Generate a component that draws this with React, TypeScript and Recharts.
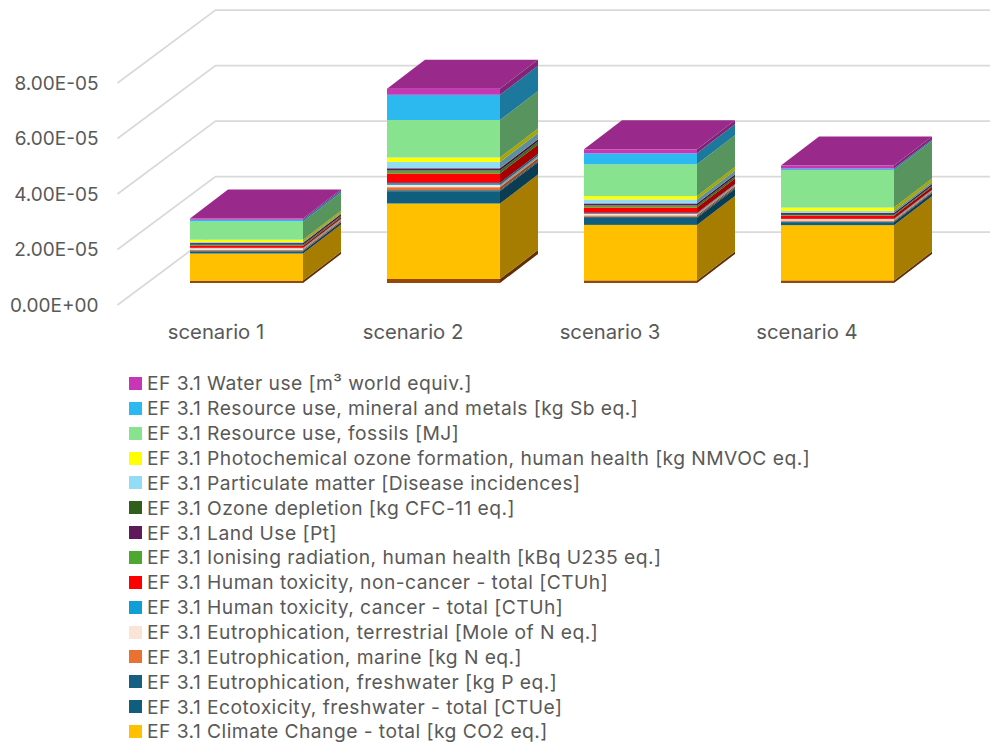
import { Bar, BarChart, CartesianGrid, Legend, XAxis, YAxis } from "recharts";

/* Stacked impact categories per scenario, bottom of the stack first */

const scenarios = ["scenario 1", "scenario 2", "scenario 3", "scenario 4"];

const acidification = [0.87e-6, 1.44e-6, 0.94e-6, 0.94e-6];
const climateChange = [9.75e-6, 27.2e-6, 20.0e-6, 19.9e-6];
const ecotoxicity = [0.8e-6, 4.44e-6, 2.53e-6, 1.08e-6];
const eutroFreshwater = [0.14e-6, 0.36e-6, 0.36e-6, 0.25e-6];
const eutroMarine = [0.43e-6, 1.08e-6, 0.54e-6, 0.36e-6];
const eutroTerrestrial = [0.54e-6, 0.83e-6, 0.54e-6, 0.47e-6];
const toxCancer = [0.15e-6, 0.72e-6, 0.36e-6, 0.11e-6];
const toxNonCancer = [0.69e-6, 3.4e-6, 1.95e-6, 1.08e-6];
const ionising = [0.43e-6, 1.05e-6, 0.72e-6, 0.36e-6];
const landUse = [0.58e-6, 0.8e-6, 0.72e-6, 0.65e-6];
const ozoneDepletion = [0.02e-6, 0.04e-6, 0.02e-6, 0.02e-6];
const particulate = [0.36e-6, 2.27e-6, 1.44e-6, 0.72e-6];
const photochemical = [0.83e-6, 1.6e-6, 1.2e-6, 1.23e-6];
const fossils = [6.6e-6, 13.5e-6, 11.44e-6, 13.57e-6];
const minerals = [0.6e-6, 9.1e-6, 3.97e-6, 0.5e-6];
const waterUse = [0.43e-6, 2.2e-6, 1.44e-6, 1.08e-6];

const yTicks = [0, 2e-5, 4e-5, 6e-5, 8e-5];
const yTickLabels = ["0.00E+00", "2.00E-05", "4.00E-05", "6.00E-05", "8.00E-05"];

interface Series {
  key: string;
  label: string;
  color: string;
  values: number[];
  inLegend: boolean;
}

const series: Series[] = [
  { key: "acid", label: "EF 3.1 Acidification [Mole of H+ eq.]", color: "#974706", values: acidification, inLegend: false },
  { key: "climate", label: "EF 3.1 Climate Change - total [kg CO2 eq.]", color: "#FFC000", values: climateChange, inLegend: true },
  { key: "eco", label: "EF 3.1 Ecotoxicity, freshwater - total [CTUe]", color: "#0F5E7E", values: ecotoxicity, inLegend: true },
  { key: "eutroF", label: "EF 3.1 Eutrophication, freshwater [kg P eq.]", color: "#156082", values: eutroFreshwater, inLegend: true },
  { key: "eutroM", label: "EF 3.1 Eutrophication, marine [kg N eq.]", color: "#E97132", values: eutroMarine, inLegend: true },
  { key: "eutroT", label: "EF 3.1 Eutrophication, terrestrial [Mole of N eq.]", color: "#FBE3D6", values: eutroTerrestrial, inLegend: true },
  { key: "toxC", label: "EF 3.1 Human toxicity, cancer - total [CTUh]", color: "#0F9ED5", values: toxCancer, inLegend: true },
  { key: "toxN", label: "EF 3.1 Human toxicity, non-cancer - total [CTUh]", color: "#FF0000", values: toxNonCancer, inLegend: true },
  { key: "ion", label: "EF 3.1 Ionising radiation, human health [kBq U235 eq.]", color: "#4EA72E", values: ionising, inLegend: true },
  { key: "land", label: "EF 3.1 Land Use [Pt]", color: "#5F1A5A", values: landUse, inLegend: true },
  { key: "ozone", label: "EF 3.1 Ozone depletion [kg CFC-11 eq.]", color: "#2F5F1B", values: ozoneDepletion, inLegend: true },
  { key: "pm", label: "EF 3.1 Particulate matter [Disease incidences]", color: "#92DCF5", values: particulate, inLegend: true },
  { key: "photo", label: "EF 3.1 Photochemical ozone formation, human health [kg NMVOC eq.]", color: "#FFFF00", values: photochemical, inLegend: true },
  { key: "fossil", label: "EF 3.1 Resource use, fossils [MJ]", color: "#88E38F", values: fossils, inLegend: true },
  { key: "mineral", label: "EF 3.1 Resource use, mineral and metals [kg Sb eq.]", color: "#2BB9F0", values: minerals, inLegend: true },
  { key: "water", label: "EF 3.1 Water use [m³ world equiv.]", color: "#C936B5", values: waterUse, inLegend: true },
];

const chartData = scenarios.map((name, i) => {
  const row: Record<string, string | number> = { name };
  series.forEach((s) => {
    row[s.key] = s.values[i];
  });
  return row;
});

/* Fake 3D projection */

const FONT = "Inter, sans-serif";
const TEXT_COLOR = "#595959";
const GRID_COLOR = "#D9D9D9";

const WALL_DX = 98; // floor depth, front edge to back wall
const WALL_DY = 73;
const COLUMN_SHIFT_X = 30.5; // column front face sits this far into the floor
const COLUMN_SHIFT_Y = 22;
const COLUMN_DX = 38; // column depth
const COLUMN_DY = 29;
const CHART_W = 990;
const CHART_H = 742;

function shade(hex: string, factor: number): string {
  const n = parseInt(hex.slice(1), 16);
  const r = Math.round(((n >> 16) & 255) * factor);
  const g = Math.round(((n >> 8) & 255) * factor);
  const b = Math.round((n & 255) * factor);
  return `rgb(${r},${g},${b})`;
}

function GridLine(props: any) {
  const { x1, y1 } = props;
  const bx = x1 + WALL_DX;
  const by = y1 - WALL_DY;
  return (
    <path
      key={props.key ?? y1}
      d={`M${x1},${y1} L${bx},${by} L${CHART_W},${by}`}
      fill="none"
      stroke={GRID_COLOR}
      strokeWidth={1.75}
    />
  );
}

function Prism(props: any) {
  const { x, y, width, height, fill, isTop } = props;
  if (width == null || height == null) return null;
  const fx = x + COLUMN_SHIFT_X;
  const fy = y - COLUMN_SHIFT_Y;
  const rx = fx + width;
  const by = fy + height;
  return (
    <g>
      <rect x={fx} y={fy} width={width} height={height} fill={fill} />
      <polygon
        points={`${rx},${fy} ${rx + COLUMN_DX},${fy - COLUMN_DY} ${rx + COLUMN_DX},${by - COLUMN_DY} ${rx},${by}`}
        fill={shade(fill, 0.65)}
      />
      {isTop && (
        <polygon
          points={`${fx},${fy} ${fx + COLUMN_DX},${fy - COLUMN_DY} ${rx + COLUMN_DX},${fy - COLUMN_DY} ${rx},${fy}`}
          fill={shade(fill, 0.76)}
        />
      )}
    </g>
  );
}

function LegendList() {
  const items = series.filter((s) => s.inLegend).reverse();
  return (
    <div style={{ fontFamily: FONT, fontSize: 19.25, letterSpacing: 0.45, color: TEXT_COLOR }}>
      {items.map((s) => (
        <div key={s.key} style={{ display: "flex", alignItems: "center", height: 24.86, whiteSpace: "nowrap" }}>
          <span style={{ width: 13, height: 13, marginRight: 5, background: s.color, flexShrink: 0 }} />
          <span>{s.label}</span>
        </div>
      ))}
    </div>
  );
}

export default function App() {
  const xTickStyle = { fill: TEXT_COLOR, fontSize: 20.3, fontFamily: FONT };
  const yTickStyle = { fill: TEXT_COLOR, fontSize: 19, fontFamily: FONT };
  return (
    <div style={{ position: "absolute", left: 0, top: 0, width: CHART_W, height: CHART_H, overflow: "hidden", background: "#fff" }}>
      <BarChart
        width={CHART_W}
        height={CHART_H}
        data={chartData}
        margin={{ top: 83, right: 84.5, bottom: 0, left: 0 }}
        barSize={113}
      >
        <CartesianGrid vertical={false} horizontal={(p: any) => <GridLine {...p} />} />
        <XAxis
          dataKey="name"
          height={437}
          axisLine={false}
          tickLine={false}
          tickMargin={14}
          tick={xTickStyle}
          interval={0}
        />
        <YAxis
          width={117.5}
          domain={[0, 8e-5]}
          ticks={yTicks}
          axisLine={false}
          tickLine={false}
          tickMargin={13}
          tick={yTickStyle}
          tickFormatter={(v: number) => yTickLabels[yTicks.indexOf(v)]}
        />
        {series.map((s, i) => (
          <Bar
            key={s.key}
            dataKey={s.key}
            stackId="impact"
            fill={s.color}
            isAnimationActive={false}
            shape={(p: any) => <Prism {...p} isTop={i === series.length - 1} />}
          />
        ))}
        <Legend
          layout="vertical"
          align="center"
          verticalAlign="middle"
          wrapperStyle={{ left: 129, top: 371, width: 800 }}
          content={() => <LegendList />}
        />
      </BarChart>
    </div>
  );
}
